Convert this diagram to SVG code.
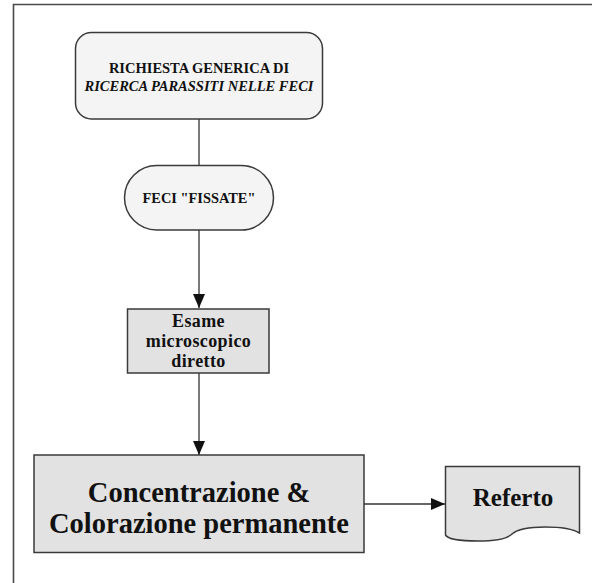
<svg xmlns="http://www.w3.org/2000/svg" width="592" height="583" viewBox="0 0 592 583">
<defs>
<style>
.node{stroke:#3a3a3a;stroke-width:1.5}
.light{fill:#f4f4f4}
.gray{fill:#e2e2e2}
.t{font-family:"Liberation Serif","Times New Roman",serif;font-weight:bold;fill:#111;text-anchor:middle}
.conn{stroke:#333;stroke-width:1.3;fill:none}
</style>
<marker id="arr" viewBox="0 0 14 12" refX="14" refY="6" markerWidth="14" markerHeight="12" markerUnits="userSpaceOnUse" orient="auto">
<path d="M0,0 L14,6 L0,12 Z" fill="#111"/>
</marker>
</defs>
<rect width="592" height="583" fill="#fff"/>
<g id="frame">
<path d="M13.5,583 V4.5 H592" fill="none" stroke="#4a4a4a" stroke-width="1.6"/>
</g>
<g id="connectors">
<line class="conn" x1="199" y1="119" x2="199" y2="165"/>
<line class="conn" x1="199" y1="230" x2="199" y2="308" marker-end="url(#arr)"/>
<line class="conn" x1="199" y1="373" x2="199" y2="455" marker-end="url(#arr)"/>
<line class="conn" x1="364" y1="504" x2="445" y2="504" marker-end="url(#arr)"/>
</g>
<g id="richiesta">
<rect class="node light" x="75.5" y="32.5" width="247" height="86.5" rx="16"/>
<text class="t" x="199" y="72.5" font-size="14.5">RICHIESTA GENERICA DI</text>
<text class="t" x="199" y="90.5" font-size="14.5" font-style="italic">RICERCA PARASSITI NELLE FECI</text>
</g>
<g id="feci">
<rect class="node light" x="124.5" y="165.5" width="149" height="64.5" rx="32.25"/>
<text class="t" x="199" y="203" font-size="14.4">FECI "FISSATE"</text>
</g>
<g id="esame">
<rect class="node gray" x="127.5" y="309" width="141.5" height="64"/>
<text class="t" x="198.5" y="327" font-size="18" letter-spacing="0.4">Esame</text>
<text class="t" x="198.5" y="347" font-size="18" letter-spacing="0.4">microscopico</text>
<text class="t" x="198.5" y="367" font-size="18" letter-spacing="0.4">diretto</text>
</g>
<g id="concentrazione">
<rect class="node gray" x="34" y="455" width="330" height="97.5"/>
<text class="t" x="199" y="502" font-size="28.5">Concentrazione &amp;</text>
<text class="t" x="199" y="533" font-size="28.5">Colorazione permanente</text>
</g>
<g id="referto">
<path class="node gray" d="M445.5,466.5 H579.5 V533 Q570,527 545,527 Q520,527 512,534 Q505,541 478,541 Q449,541 445.5,535 Z"/>
<text class="t" x="513" y="506" font-size="25">Referto</text>
</g>
</svg>
